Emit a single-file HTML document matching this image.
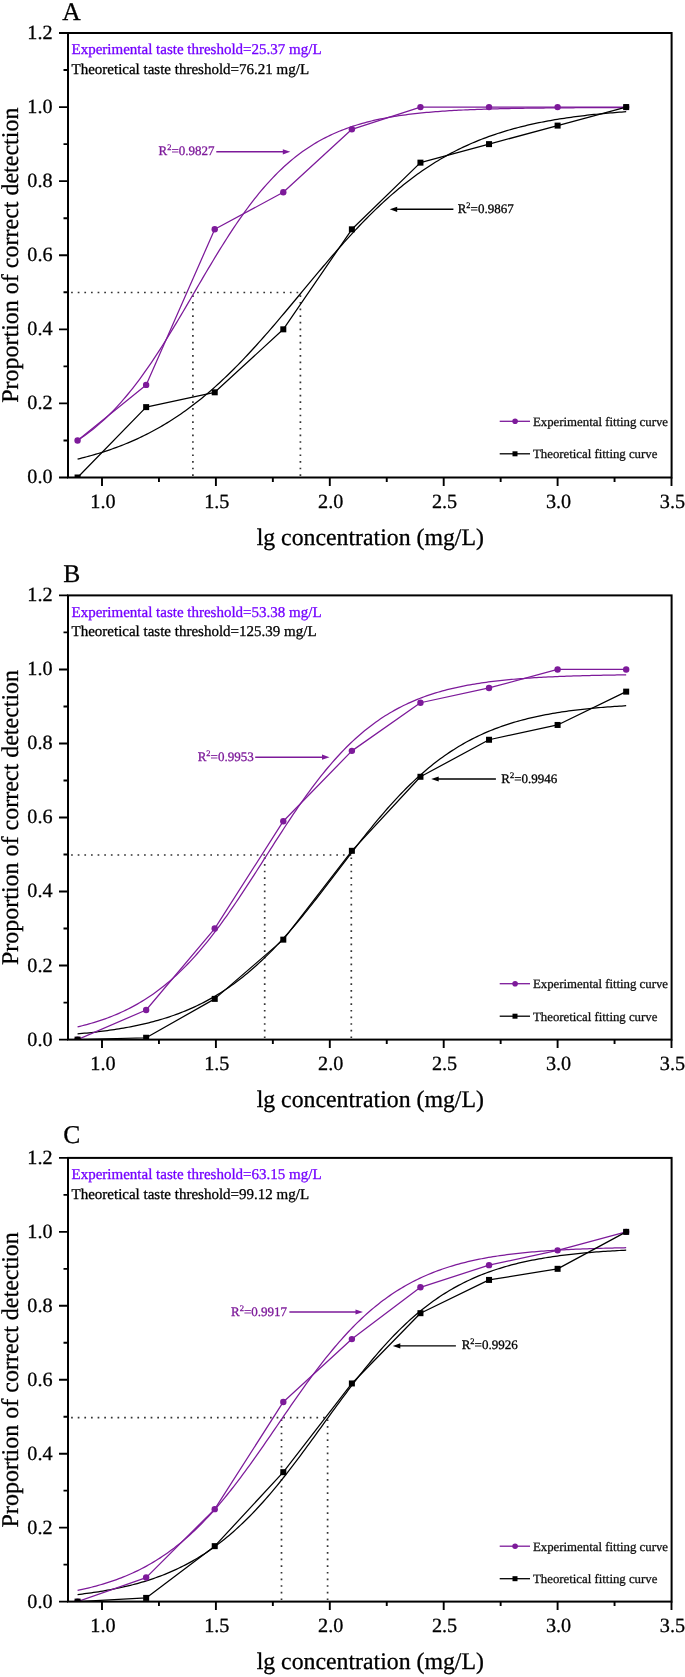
<!DOCTYPE html>
<html><head><meta charset="utf-8"><style>
html,body{margin:0;padding:0;background:#fff;}
svg{display:block;text-rendering:geometricPrecision;will-change:transform;}
text{font-family:"Liberation Serif", serif;}
</style></head><body>
<svg width="685" height="1677" viewBox="0 0 685 1677">
<rect width="685" height="1677" fill="#fff"/>
<text x="62.3" y="19.7" font-size="25.5" fill="#000" stroke="#000" stroke-width="0.3">A</text>
<g stroke="#333" stroke-width="1.7" stroke-dasharray="1.7 4.93" fill="none"><line x1="71.1" y1="292.5" x2="301.4" y2="292.5"/><line x1="192.9" y1="476.0" x2="192.9" y2="292.5"/><line x1="300.4" y1="476.0" x2="300.4" y2="292.5"/></g>
<clipPath id="cA"><rect x="68.0" y="33.0" width="603.6" height="444.5"/></clipPath>
<g clip-path="url(#cA)">
<polyline points="77.58,440.38 79.87,438.87 82.17,437.31 84.46,435.70 86.76,434.03 89.05,432.31 91.35,430.54 93.65,428.71 95.94,426.82 98.24,424.88 100.53,422.88 102.83,420.81 105.12,418.69 107.42,416.50 109.71,414.25 112.01,411.95 114.30,409.57 116.60,407.14 118.89,404.64 121.19,402.07 123.49,399.45 125.78,396.75 128.08,394.00 130.37,391.18 132.67,388.30 134.96,385.35 137.26,382.35 139.55,379.28 141.85,376.15 144.14,372.96 146.44,369.72 148.73,366.41 151.03,363.06 153.33,359.65 155.62,356.18 157.92,352.67 160.21,349.11 162.51,345.51 164.80,341.86 167.10,338.17 169.39,334.45 171.69,330.69 173.98,326.90 176.28,323.07 178.57,319.23 180.87,315.36 183.17,311.47 185.46,307.57 187.76,303.65 190.05,299.73 192.35,295.79 194.64,291.86 196.94,287.93 199.23,284.00 201.53,280.08 203.82,276.18 206.12,272.29 208.41,268.42 210.71,264.57 213.01,260.74 215.30,256.94 217.60,253.18 219.89,249.45 222.19,245.76 224.48,242.10 226.78,238.49 229.07,234.92 231.37,231.40 233.66,227.93 235.96,224.52 238.25,221.15 240.55,217.84 242.85,214.59 245.14,211.39 247.44,208.25 249.73,205.17 252.03,202.16 254.32,199.20 256.62,196.31 258.91,193.48 261.21,190.72 263.50,188.02 265.80,185.38 268.09,182.81 270.39,180.30 272.69,177.85 274.98,175.47 277.28,173.15 279.57,170.90 281.87,168.70 284.16,166.57 286.46,164.50 288.75,162.48 291.05,160.53 293.34,158.63 295.64,156.80 297.93,155.01 300.23,153.29 302.53,151.61 304.82,149.99 307.12,148.43 309.41,146.91 311.71,145.44 314.00,144.02 316.30,142.65 318.59,141.32 320.89,140.04 323.18,138.81 325.48,137.61 327.77,136.46 330.07,135.35 332.37,134.28 334.66,133.24 336.96,132.25 339.25,131.28 341.55,130.36 343.84,129.46 346.14,128.60 348.43,127.77 350.73,126.98 353.02,126.21 355.32,125.47 357.61,124.76 359.91,124.07 362.21,123.41 364.50,122.78 366.80,122.17 369.09,121.58 371.39,121.01 373.68,120.47 375.98,119.95 378.27,119.45 380.57,118.96 382.86,118.50 385.16,118.05 387.45,117.63 389.75,117.22 392.05,116.82 394.34,116.44 396.64,116.08 398.93,115.73 401.23,115.39 403.52,115.07 405.82,114.76 408.11,114.46 410.41,114.17 412.70,113.90 415.00,113.63 417.29,113.38 419.59,113.14 421.89,112.90 424.18,112.68 426.48,112.46 428.77,112.26 431.07,112.06 433.36,111.87 435.66,111.69 437.95,111.51 440.25,111.35 442.54,111.18 444.84,111.03 447.13,110.88 449.43,110.74 451.73,110.60 454.02,110.47 456.32,110.35 458.61,110.23 460.91,110.11 463.20,110.00 465.50,109.89 467.79,109.79 470.09,109.70 472.38,109.60 474.68,109.51 476.97,109.43 479.27,109.34 481.57,109.26 483.86,109.19 486.16,109.11 488.45,109.04 490.75,108.98 493.04,108.91 495.34,108.85 497.63,108.79 499.93,108.74 502.22,108.68 504.52,108.63 506.81,108.58 509.11,108.53 511.41,108.48 513.70,108.44 516.00,108.40 518.29,108.36 520.59,108.32 522.88,108.28 525.18,108.25 527.47,108.21 529.77,108.18 532.06,108.15 534.36,108.12 536.65,108.09 538.95,108.06 541.25,108.03 543.54,108.01 545.84,107.98 548.13,107.96 550.43,107.94 552.72,107.92 555.02,107.90 557.31,107.88 559.61,107.86 561.90,107.84 564.20,107.82 566.49,107.80 568.79,107.79 571.09,107.77 573.38,107.76 575.68,107.74 577.97,107.73 580.27,107.72 582.56,107.71 584.86,107.69 587.15,107.68 589.45,107.67 591.74,107.66 594.04,107.65 596.33,107.64 598.63,107.63 600.93,107.62 603.22,107.61 605.52,107.61 607.81,107.60 610.11,107.59 612.40,107.58 614.70,107.58 616.99,107.57 619.29,107.56 621.58,107.56 623.88,107.55 626.17,107.55" fill="none" stroke="#7d1a9a" stroke-width="1.25" stroke-linejoin="round"/>
<polyline points="77.58,459.08 79.87,458.52 82.17,457.95 84.46,457.37 86.76,456.77 89.05,456.15 91.35,455.52 93.65,454.87 95.94,454.20 98.24,453.51 100.53,452.81 102.83,452.09 105.12,451.35 107.42,450.59 109.71,449.81 112.01,449.02 114.30,448.20 116.60,447.36 118.89,446.50 121.19,445.62 123.49,444.72 125.78,443.79 128.08,442.85 130.37,441.88 132.67,440.88 134.96,439.86 137.26,438.82 139.55,437.76 141.85,436.67 144.14,435.55 146.44,434.41 148.73,433.24 151.03,432.04 153.33,430.82 155.62,429.57 157.92,428.29 160.21,426.99 162.51,425.66 164.80,424.29 167.10,422.90 169.39,421.48 171.69,420.03 173.98,418.56 176.28,417.05 178.57,415.51 180.87,413.94 183.17,412.34 185.46,410.70 187.76,409.04 190.05,407.35 192.35,405.62 194.64,403.86 196.94,402.08 199.23,400.26 201.53,398.41 203.82,396.52 206.12,394.61 208.41,392.66 210.71,390.68 213.01,388.68 215.30,386.64 217.60,384.57 219.89,382.47 222.19,380.33 224.48,378.17 226.78,375.98 229.07,373.76 231.37,371.51 233.66,369.23 235.96,366.93 238.25,364.59 240.55,362.23 242.85,359.84 245.14,357.43 247.44,354.99 249.73,352.53 252.03,350.04 254.32,347.53 256.62,345.00 258.91,342.45 261.21,339.88 263.50,337.28 265.80,334.67 268.09,332.04 270.39,329.40 272.69,326.74 274.98,324.06 277.28,321.37 279.57,318.67 281.87,315.95 284.16,313.23 286.46,310.50 288.75,307.76 291.05,305.01 293.34,302.26 295.64,299.50 297.93,296.74 300.23,293.98 302.53,291.21 304.82,288.45 307.12,285.69 309.41,282.93 311.71,280.18 314.00,277.43 316.30,274.69 318.59,271.95 320.89,269.23 323.18,266.51 325.48,263.81 327.77,261.12 330.07,258.44 332.37,255.78 334.66,253.13 336.96,250.50 339.25,247.88 341.55,245.29 343.84,242.71 346.14,240.15 348.43,237.62 350.73,235.11 353.02,232.62 355.32,230.15 357.61,227.71 359.91,225.29 362.21,222.90 364.50,220.53 366.80,218.20 369.09,215.89 371.39,213.60 373.68,211.35 375.98,209.12 378.27,206.93 380.57,204.76 382.86,202.63 385.16,200.52 387.45,198.45 389.75,196.40 392.05,194.39 394.34,192.41 396.64,190.46 398.93,188.54 401.23,186.65 403.52,184.79 405.82,182.97 408.11,181.17 410.41,179.41 412.70,177.68 415.00,175.98 417.29,174.32 419.59,172.68 421.89,171.07 424.18,169.50 426.48,167.96 428.77,166.44 431.07,164.96 433.36,163.50 435.66,162.08 437.95,160.68 440.25,159.32 442.54,157.98 444.84,156.67 447.13,155.39 449.43,154.14 451.73,152.91 454.02,151.71 456.32,150.54 458.61,149.39 460.91,148.27 463.20,147.18 465.50,146.11 467.79,145.06 470.09,144.04 472.38,143.04 474.68,142.07 476.97,141.12 479.27,140.19 481.57,139.28 483.86,138.40 486.16,137.54 488.45,136.70 490.75,135.88 493.04,135.08 495.34,134.29 497.63,133.53 499.93,132.79 502.22,132.07 504.52,131.36 506.81,130.67 509.11,130.00 511.41,129.35 513.70,128.71 516.00,128.09 518.29,127.49 520.59,126.90 522.88,126.33 525.18,125.77 527.47,125.23 529.77,124.70 532.06,124.18 534.36,123.68 536.65,123.20 538.95,122.72 541.25,122.26 543.54,121.81 545.84,121.37 548.13,120.94 550.43,120.53 552.72,120.13 555.02,119.73 557.31,119.35 559.61,118.98 561.90,118.62 564.20,118.27 566.49,117.92 568.79,117.59 571.09,117.27 573.38,116.95 575.68,116.65 577.97,116.35 580.27,116.06 582.56,115.78 584.86,115.51 587.15,115.24 589.45,114.98 591.74,114.73 594.04,114.49 596.33,114.25 598.63,114.02 600.93,113.80 603.22,113.58 605.52,113.37 607.81,113.16 610.11,112.96 612.40,112.77 614.70,112.58 616.99,112.39 619.29,112.22 621.58,112.04 623.88,111.87 626.17,111.71" fill="none" stroke="#000" stroke-width="1.25" stroke-linejoin="round"/>
<polyline points="77.58,440.46 146.15,384.90 214.73,229.32 283.30,192.28 351.88,129.31 420.45,107.08 489.03,107.08 557.60,107.08 626.17,107.08" fill="none" stroke="#7d1a9a" stroke-width="1.25" stroke-linejoin="round"/>
<circle cx="77.58" cy="440.46" r="3.2" fill="#7d1a9a"/>
<circle cx="146.15" cy="384.90" r="3.2" fill="#7d1a9a"/>
<circle cx="214.73" cy="229.32" r="3.2" fill="#7d1a9a"/>
<circle cx="283.30" cy="192.28" r="3.2" fill="#7d1a9a"/>
<circle cx="351.88" cy="129.31" r="3.2" fill="#7d1a9a"/>
<circle cx="420.45" cy="107.08" r="3.2" fill="#7d1a9a"/>
<circle cx="489.03" cy="107.08" r="3.2" fill="#7d1a9a"/>
<circle cx="557.60" cy="107.08" r="3.2" fill="#7d1a9a"/>
<circle cx="626.17" cy="107.08" r="3.2" fill="#7d1a9a"/>
<polyline points="77.58,477.50 146.15,407.12 214.73,392.30 283.30,329.33 351.88,229.32 420.45,162.65 489.03,144.12 557.60,125.60 626.17,107.08" fill="none" stroke="#000" stroke-width="1.25" stroke-linejoin="round"/>
<rect x="74.58" y="474.50" width="6" height="6" fill="#000"/>
<rect x="143.15" y="404.12" width="6" height="6" fill="#000"/>
<rect x="211.73" y="389.30" width="6" height="6" fill="#000"/>
<rect x="280.30" y="326.33" width="6" height="6" fill="#000"/>
<rect x="348.88" y="226.32" width="6" height="6" fill="#000"/>
<rect x="417.45" y="159.65" width="6" height="6" fill="#000"/>
<rect x="486.03" y="141.12" width="6" height="6" fill="#000"/>
<rect x="554.60" y="122.60" width="6" height="6" fill="#000"/>
<rect x="623.17" y="104.08" width="6" height="6" fill="#000"/>
</g>
<rect x="68.0" y="33.0" width="603.6" height="444.5" fill="none" stroke="#000" stroke-width="2"/>
<path d="M68.0 477.50H59.0M68.0 440.46H63.5M68.0 403.42H59.0M68.0 366.38H63.5M68.0 329.33H59.0M68.0 292.29H63.5M68.0 255.25H59.0M68.0 218.21H63.5M68.0 181.17H59.0M68.0 144.12H63.5M68.0 107.08H59.0M68.0 70.04H63.5M68.0 33.00H59.0M102.00 477.5V486.0M158.95 477.5V482.0M215.90 477.5V486.0M272.85 477.5V482.0M329.80 477.5V486.0M386.75 477.5V482.0M443.70 477.5V486.0M500.65 477.5V482.0M557.60 477.5V486.0M614.55 477.5V482.0M671.50 477.5V486.0" stroke="#000" stroke-width="1.9" fill="none"/>
<text x="52.6" y="483.4" font-size="20.2" fill="#000" stroke="#000" stroke-width="0.3" text-anchor="end">0.0</text>
<text x="52.6" y="409.3" font-size="20.2" fill="#000" stroke="#000" stroke-width="0.3" text-anchor="end">0.2</text>
<text x="52.6" y="335.2" font-size="20.2" fill="#000" stroke="#000" stroke-width="0.3" text-anchor="end">0.4</text>
<text x="52.6" y="261.1" font-size="20.2" fill="#000" stroke="#000" stroke-width="0.3" text-anchor="end">0.6</text>
<text x="52.6" y="187.1" font-size="20.2" fill="#000" stroke="#000" stroke-width="0.3" text-anchor="end">0.8</text>
<text x="52.6" y="113.0" font-size="20.2" fill="#000" stroke="#000" stroke-width="0.3" text-anchor="end">1.0</text>
<text x="52.6" y="38.9" font-size="20.2" fill="#000" stroke="#000" stroke-width="0.3" text-anchor="end">1.2</text>
<text x="102.9" y="507.5" font-size="20.2" fill="#000" stroke="#000" stroke-width="0.3" text-anchor="middle">1.0</text>
<text x="216.8" y="507.5" font-size="20.2" fill="#000" stroke="#000" stroke-width="0.3" text-anchor="middle">1.5</text>
<text x="330.7" y="507.5" font-size="20.2" fill="#000" stroke="#000" stroke-width="0.3" text-anchor="middle">2.0</text>
<text x="444.6" y="507.5" font-size="20.2" fill="#000" stroke="#000" stroke-width="0.3" text-anchor="middle">2.5</text>
<text x="558.5" y="507.5" font-size="20.2" fill="#000" stroke="#000" stroke-width="0.3" text-anchor="middle">3.0</text>
<text x="672.4" y="507.5" font-size="20.2" fill="#000" stroke="#000" stroke-width="0.3" text-anchor="middle">3.5</text>
<text x="370.3" y="544.5" font-size="23.8" fill="#000" stroke="#000" stroke-width="0.3" text-anchor="middle">lg concentration (mg/L)</text>
<text x="0.0" y="0.0" font-size="24" fill="#000" stroke="#000" stroke-width="0.3" text-anchor="middle" transform="translate(18.3 255.2) rotate(-90)">Proportion of correct detection</text>
<text x="71.5" y="54.3" font-size="15" fill="#7400ff" stroke="#7400ff" stroke-width="0.3">Experimental taste threshold=25.37 mg/L</text>
<text x="71.5" y="73.6" font-size="15" fill="#000" stroke="#000" stroke-width="0.3">Theoretical taste threshold=76.21 mg/L</text>
<text x="158.6" y="154.8" font-size="13" fill="#7d1a9a" stroke="#7d1a9a" stroke-width="0.3">R<tspan font-size="8.5" dy="-5.2">2</tspan><tspan dy="5.2">=0.9827</tspan></text>
<line x1="216.3" y1="151.8" x2="284.3" y2="151.8" stroke="#7d1a9a" stroke-width="1.4"/>
<path d="M290.3 151.8L282.8 149.2L282.8 154.4Z" fill="#7d1a9a"/>
<text x="457.7" y="213.3" font-size="13" fill="#000" stroke="#000" stroke-width="0.3">R<tspan font-size="8.5" dy="-5.2">2</tspan><tspan dy="5.2">=0.9867</tspan></text>
<line x1="453.4" y1="209.3" x2="395.7" y2="209.3" stroke="#000" stroke-width="1.4"/>
<path d="M389.7 209.3L397.2 206.7L397.2 211.9Z" fill="#000"/>
<line x1="499.7" y1="421.3" x2="530" y2="421.3" stroke="#7d1a9a" stroke-width="1.3"/>
<circle cx="515.1" cy="421.3" r="2.8" fill="#7d1a9a"/>
<line x1="499.7" y1="453.8" x2="530" y2="453.8" stroke="#000" stroke-width="1.3"/>
<rect x="512.5" y="451.3" width="5" height="5" fill="#000"/>
<text x="533.0" y="425.7" font-size="12.8" fill="#111" stroke="#111" stroke-width="0.3">Experimental fitting curve</text>
<text x="533.0" y="458.2" font-size="12.8" fill="#111" stroke="#111" stroke-width="0.3">Theoretical fitting curve</text>
<text x="63.3" y="582.4" font-size="25.5" fill="#000" stroke="#000" stroke-width="0.3">B</text>
<g stroke="#333" stroke-width="1.7" stroke-dasharray="1.7 4.93" fill="none"><line x1="71.1" y1="855.0" x2="352.3" y2="855.0"/><line x1="264.7" y1="1038.1" x2="264.7" y2="855.0"/><line x1="351.3" y1="1038.1" x2="351.3" y2="855.0"/></g>
<clipPath id="cB"><rect x="68.0" y="595.4" width="603.6" height="444.2"/></clipPath>
<g clip-path="url(#cB)">
<polyline points="77.58,1026.87 79.87,1026.32 82.17,1025.75 84.46,1025.16 86.76,1024.55 89.05,1023.92 91.35,1023.26 93.65,1022.58 95.94,1021.88 98.24,1021.15 100.53,1020.40 102.83,1019.62 105.12,1018.81 107.42,1017.97 109.71,1017.10 112.01,1016.21 114.30,1015.28 116.60,1014.32 118.89,1013.33 121.19,1012.30 123.49,1011.24 125.78,1010.15 128.08,1009.02 130.37,1007.85 132.67,1006.64 134.96,1005.39 137.26,1004.11 139.55,1002.78 141.85,1001.41 144.14,1000.00 146.44,998.54 148.73,997.04 151.03,995.50 153.33,993.91 155.62,992.27 157.92,990.58 160.21,988.84 162.51,987.06 164.80,985.22 167.10,983.34 169.39,981.40 171.69,979.41 173.98,977.37 176.28,975.27 178.57,973.12 180.87,970.92 183.17,968.66 185.46,966.35 187.76,963.99 190.05,961.57 192.35,959.10 194.64,956.57 196.94,953.99 199.23,951.35 201.53,948.66 203.82,945.92 206.12,943.12 208.41,940.28 210.71,937.38 213.01,934.43 215.30,931.44 217.60,928.39 219.89,925.30 222.19,922.17 224.48,918.99 226.78,915.77 229.07,912.51 231.37,909.21 233.66,905.87 235.96,902.50 238.25,899.10 240.55,895.66 242.85,892.20 245.14,888.71 247.44,885.20 249.73,881.67 252.03,878.12 254.32,874.56 256.62,870.98 258.91,867.39 261.21,863.79 263.50,860.19 265.80,856.59 268.09,852.99 270.39,849.39 272.69,845.80 274.98,842.21 277.28,838.64 279.57,835.08 281.87,831.54 284.16,828.02 286.46,824.53 288.75,821.05 291.05,817.61 293.34,814.19 295.64,810.81 297.93,807.45 300.23,804.14 302.53,800.86 304.82,797.62 307.12,794.42 309.41,791.27 311.71,788.16 314.00,785.10 316.30,782.08 318.59,779.11 320.89,776.19 323.18,773.32 325.48,770.51 327.77,767.74 330.07,765.03 332.37,762.37 334.66,759.76 336.96,757.21 339.25,754.71 341.55,752.27 343.84,749.88 346.14,747.55 348.43,745.27 350.73,743.04 353.02,740.87 355.32,738.75 357.61,736.69 359.91,734.67 362.21,732.71 364.50,730.81 366.80,728.95 369.09,727.14 371.39,725.38 373.68,723.68 375.98,722.02 378.27,720.40 380.57,718.84 382.86,717.32 385.16,715.84 387.45,714.41 389.75,713.02 392.05,711.68 394.34,710.38 396.64,709.11 398.93,707.89 401.23,706.70 403.52,705.55 405.82,704.44 408.11,703.37 410.41,702.33 412.70,701.32 415.00,700.35 417.29,699.41 419.59,698.50 421.89,697.62 424.18,696.77 426.48,695.95 428.77,695.15 431.07,694.39 433.36,693.65 435.66,692.93 437.95,692.24 440.25,691.58 442.54,690.94 444.84,690.32 447.13,689.72 449.43,689.14 451.73,688.58 454.02,688.05 456.32,687.53 458.61,687.03 460.91,686.55 463.20,686.09 465.50,685.64 467.79,685.21 470.09,684.79 472.38,684.39 474.68,684.01 476.97,683.64 479.27,683.28 481.57,682.93 483.86,682.60 486.16,682.28 488.45,681.97 490.75,681.67 493.04,681.39 495.34,681.11 497.63,680.85 499.93,680.59 502.22,680.35 504.52,680.11 506.81,679.88 509.11,679.66 511.41,679.45 513.70,679.25 516.00,679.05 518.29,678.86 520.59,678.68 522.88,678.51 525.18,678.34 527.47,678.18 529.77,678.02 532.06,677.87 534.36,677.73 536.65,677.59 538.95,677.46 541.25,677.33 543.54,677.21 545.84,677.09 548.13,676.97 550.43,676.86 552.72,676.76 555.02,676.66 557.31,676.56 559.61,676.46 561.90,676.37 564.20,676.29 566.49,676.20 568.79,676.12 571.09,676.04 573.38,675.97 575.68,675.90 577.97,675.83 580.27,675.76 582.56,675.70 584.86,675.64 587.15,675.58 589.45,675.52 591.74,675.47 594.04,675.41 596.33,675.36 598.63,675.32 600.93,675.27 603.22,675.22 605.52,675.18 607.81,675.14 610.11,675.10 612.40,675.06 614.70,675.02 616.99,674.99 619.29,674.95 621.58,674.92 623.88,674.89 626.17,674.86" fill="none" stroke="#7d1a9a" stroke-width="1.25" stroke-linejoin="round"/>
<polyline points="77.58,1033.88 79.87,1033.67 82.17,1033.46 84.46,1033.24 86.76,1033.01 89.05,1032.77 91.35,1032.53 93.65,1032.28 95.94,1032.01 98.24,1031.74 100.53,1031.46 102.83,1031.17 105.12,1030.87 107.42,1030.56 109.71,1030.24 112.01,1029.91 114.30,1029.56 116.60,1029.21 118.89,1028.84 121.19,1028.46 123.49,1028.07 125.78,1027.66 128.08,1027.24 130.37,1026.81 132.67,1026.36 134.96,1025.89 137.26,1025.41 139.55,1024.92 141.85,1024.41 144.14,1023.88 146.44,1023.33 148.73,1022.77 151.03,1022.18 153.33,1021.58 155.62,1020.96 157.92,1020.32 160.21,1019.66 162.51,1018.98 164.80,1018.27 167.10,1017.54 169.39,1016.79 171.69,1016.02 173.98,1015.22 176.28,1014.40 178.57,1013.55 180.87,1012.68 183.17,1011.78 185.46,1010.85 187.76,1009.89 190.05,1008.91 192.35,1007.89 194.64,1006.85 196.94,1005.78 199.23,1004.67 201.53,1003.53 203.82,1002.36 206.12,1001.16 208.41,999.92 210.71,998.65 213.01,997.35 215.30,996.01 217.60,994.63 219.89,993.22 222.19,991.76 224.48,990.28 226.78,988.75 229.07,987.18 231.37,985.58 233.66,983.94 235.96,982.25 238.25,980.53 240.55,978.76 242.85,976.96 245.14,975.11 247.44,973.22 249.73,971.30 252.03,969.33 254.32,967.31 256.62,965.26 258.91,963.16 261.21,961.03 263.50,958.85 265.80,956.63 268.09,954.37 270.39,952.07 272.69,949.73 274.98,947.35 277.28,944.94 279.57,942.48 281.87,939.99 284.16,937.45 286.46,934.89 288.75,932.29 291.05,929.65 293.34,926.98 295.64,924.28 297.93,921.55 300.23,918.79 302.53,916.00 304.82,913.18 307.12,910.34 309.41,907.47 311.71,904.59 314.00,901.68 316.30,898.75 318.59,895.81 320.89,892.85 323.18,889.87 325.48,886.88 327.77,883.89 330.07,880.88 332.37,877.87 334.66,874.86 336.96,871.84 339.25,868.82 341.55,865.80 343.84,862.79 346.14,859.78 348.43,856.77 350.73,853.78 353.02,850.80 355.32,847.83 357.61,844.87 359.91,841.93 362.21,839.01 364.50,836.11 366.80,833.23 369.09,830.37 371.39,827.54 373.68,824.73 375.98,821.95 378.27,819.20 380.57,816.48 382.86,813.79 385.16,811.13 387.45,808.50 389.75,805.91 392.05,803.36 394.34,800.84 396.64,798.36 398.93,795.91 401.23,793.51 403.52,791.14 405.82,788.81 408.11,786.53 410.41,784.28 412.70,782.08 415.00,779.91 417.29,777.79 419.59,775.71 421.89,773.67 424.18,771.67 426.48,769.71 428.77,767.80 431.07,765.92 433.36,764.09 435.66,762.30 437.95,760.55 440.25,758.84 442.54,757.17 444.84,755.53 447.13,753.94 449.43,752.39 451.73,750.88 454.02,749.40 456.32,747.96 458.61,746.56 460.91,745.20 463.20,743.87 465.50,742.57 467.79,741.31 470.09,740.09 472.38,738.90 474.68,737.74 476.97,736.61 479.27,735.51 481.57,734.45 483.86,733.42 486.16,732.41 488.45,731.44 490.75,730.49 493.04,729.57 495.34,728.68 497.63,727.81 499.93,726.97 502.22,726.16 504.52,725.37 506.81,724.60 509.11,723.86 511.41,723.14 513.70,722.44 516.00,721.77 518.29,721.11 520.59,720.48 522.88,719.86 525.18,719.27 527.47,718.69 529.77,718.13 532.06,717.59 534.36,717.07 536.65,716.56 538.95,716.07 541.25,715.60 543.54,715.14 545.84,714.70 548.13,714.27 550.43,713.85 552.72,713.45 555.02,713.06 557.31,712.68 559.61,712.32 561.90,711.97 564.20,711.63 566.49,711.30 568.79,710.98 571.09,710.67 573.38,710.38 575.68,710.09 577.97,709.81 580.27,709.54 582.56,709.29 584.86,709.04 587.15,708.79 589.45,708.56 591.74,708.33 594.04,708.12 596.33,707.90 598.63,707.70 600.93,707.50 603.22,707.31 605.52,707.13 607.81,706.95 610.11,706.78 612.40,706.62 614.70,706.46 616.99,706.30 619.29,706.15 621.58,706.01 623.88,705.87 626.17,705.74" fill="none" stroke="#000" stroke-width="1.25" stroke-linejoin="round"/>
<polyline points="77.58,1039.60 146.15,1009.99 214.73,928.55 283.30,821.20 351.88,750.87 420.45,702.75 489.03,687.94 557.60,669.43 626.17,669.43" fill="none" stroke="#7d1a9a" stroke-width="1.25" stroke-linejoin="round"/>
<circle cx="77.58" cy="1039.60" r="3.2" fill="#7d1a9a"/>
<circle cx="146.15" cy="1009.99" r="3.2" fill="#7d1a9a"/>
<circle cx="214.73" cy="928.55" r="3.2" fill="#7d1a9a"/>
<circle cx="283.30" cy="821.20" r="3.2" fill="#7d1a9a"/>
<circle cx="351.88" cy="750.87" r="3.2" fill="#7d1a9a"/>
<circle cx="420.45" cy="702.75" r="3.2" fill="#7d1a9a"/>
<circle cx="489.03" cy="687.94" r="3.2" fill="#7d1a9a"/>
<circle cx="557.60" cy="669.43" r="3.2" fill="#7d1a9a"/>
<circle cx="626.17" cy="669.43" r="3.2" fill="#7d1a9a"/>
<polyline points="77.58,1039.60 146.15,1037.75 214.73,998.88 283.30,939.65 351.88,850.81 420.45,776.78 489.03,739.76 557.60,724.96 626.17,691.64" fill="none" stroke="#000" stroke-width="1.25" stroke-linejoin="round"/>
<rect x="74.58" y="1036.60" width="6" height="6" fill="#000"/>
<rect x="143.15" y="1034.75" width="6" height="6" fill="#000"/>
<rect x="211.73" y="995.88" width="6" height="6" fill="#000"/>
<rect x="280.30" y="936.65" width="6" height="6" fill="#000"/>
<rect x="348.88" y="847.81" width="6" height="6" fill="#000"/>
<rect x="417.45" y="773.78" width="6" height="6" fill="#000"/>
<rect x="486.03" y="736.76" width="6" height="6" fill="#000"/>
<rect x="554.60" y="721.96" width="6" height="6" fill="#000"/>
<rect x="623.17" y="688.64" width="6" height="6" fill="#000"/>
</g>
<rect x="68.0" y="595.4" width="603.6" height="444.2" fill="none" stroke="#000" stroke-width="2"/>
<path d="M68.0 1039.60H59.0M68.0 1002.58H63.5M68.0 965.57H59.0M68.0 928.55H63.5M68.0 891.53H59.0M68.0 854.52H63.5M68.0 817.50H59.0M68.0 780.48H63.5M68.0 743.47H59.0M68.0 706.45H63.5M68.0 669.43H59.0M68.0 632.42H63.5M68.0 595.40H59.0M102.00 1039.6V1048.1M158.95 1039.6V1044.1M215.90 1039.6V1048.1M272.85 1039.6V1044.1M329.80 1039.6V1048.1M386.75 1039.6V1044.1M443.70 1039.6V1048.1M500.65 1039.6V1044.1M557.60 1039.6V1048.1M614.55 1039.6V1044.1M671.50 1039.6V1048.1" stroke="#000" stroke-width="1.9" fill="none"/>
<text x="52.6" y="1045.5" font-size="20.2" fill="#000" stroke="#000" stroke-width="0.3" text-anchor="end">0.0</text>
<text x="52.6" y="971.5" font-size="20.2" fill="#000" stroke="#000" stroke-width="0.3" text-anchor="end">0.2</text>
<text x="52.6" y="897.4" font-size="20.2" fill="#000" stroke="#000" stroke-width="0.3" text-anchor="end">0.4</text>
<text x="52.6" y="823.4" font-size="20.2" fill="#000" stroke="#000" stroke-width="0.3" text-anchor="end">0.6</text>
<text x="52.6" y="749.4" font-size="20.2" fill="#000" stroke="#000" stroke-width="0.3" text-anchor="end">0.8</text>
<text x="52.6" y="675.3" font-size="20.2" fill="#000" stroke="#000" stroke-width="0.3" text-anchor="end">1.0</text>
<text x="52.6" y="601.3" font-size="20.2" fill="#000" stroke="#000" stroke-width="0.3" text-anchor="end">1.2</text>
<text x="102.9" y="1069.6" font-size="20.2" fill="#000" stroke="#000" stroke-width="0.3" text-anchor="middle">1.0</text>
<text x="216.8" y="1069.6" font-size="20.2" fill="#000" stroke="#000" stroke-width="0.3" text-anchor="middle">1.5</text>
<text x="330.7" y="1069.6" font-size="20.2" fill="#000" stroke="#000" stroke-width="0.3" text-anchor="middle">2.0</text>
<text x="444.6" y="1069.6" font-size="20.2" fill="#000" stroke="#000" stroke-width="0.3" text-anchor="middle">2.5</text>
<text x="558.5" y="1069.6" font-size="20.2" fill="#000" stroke="#000" stroke-width="0.3" text-anchor="middle">3.0</text>
<text x="672.4" y="1069.6" font-size="20.2" fill="#000" stroke="#000" stroke-width="0.3" text-anchor="middle">3.5</text>
<text x="370.3" y="1106.6" font-size="23.8" fill="#000" stroke="#000" stroke-width="0.3" text-anchor="middle">lg concentration (mg/L)</text>
<text x="0.0" y="0.0" font-size="24" fill="#000" stroke="#000" stroke-width="0.3" text-anchor="middle" transform="translate(18.3 817.5) rotate(-90)">Proportion of correct detection</text>
<text x="71.5" y="616.7" font-size="15" fill="#7400ff" stroke="#7400ff" stroke-width="0.3">Experimental taste threshold=53.38 mg/L</text>
<text x="71.5" y="636.0" font-size="15" fill="#000" stroke="#000" stroke-width="0.3">Theoretical taste threshold=125.39 mg/L</text>
<text x="197.7" y="761.0" font-size="13" fill="#7d1a9a" stroke="#7d1a9a" stroke-width="0.3">R<tspan font-size="8.5" dy="-5.2">2</tspan><tspan dy="5.2">=0.9953</tspan></text>
<line x1="255.2" y1="757.2" x2="323.5" y2="757.2" stroke="#7d1a9a" stroke-width="1.4"/>
<path d="M329.5 757.2L322.0 754.6L322.0 759.8Z" fill="#7d1a9a"/>
<text x="501.3" y="783.0" font-size="13" fill="#000" stroke="#000" stroke-width="0.3">R<tspan font-size="8.5" dy="-5.2">2</tspan><tspan dy="5.2">=0.9946</tspan></text>
<line x1="495.9" y1="779.0" x2="437.2" y2="779.0" stroke="#000" stroke-width="1.4"/>
<path d="M431.2 779.0L438.7 776.4L438.7 781.6Z" fill="#000"/>
<line x1="499.7" y1="983.7" x2="530" y2="983.7" stroke="#7d1a9a" stroke-width="1.3"/>
<circle cx="515.1" cy="983.7" r="2.8" fill="#7d1a9a"/>
<line x1="499.7" y1="1016.2" x2="530" y2="1016.2" stroke="#000" stroke-width="1.3"/>
<rect x="512.5" y="1013.7" width="5" height="5" fill="#000"/>
<text x="533.0" y="988.1" font-size="12.8" fill="#111" stroke="#111" stroke-width="0.3">Experimental fitting curve</text>
<text x="533.0" y="1020.6" font-size="12.8" fill="#111" stroke="#111" stroke-width="0.3">Theoretical fitting curve</text>
<text x="63.3" y="1143.4" font-size="25.5" fill="#000" stroke="#000" stroke-width="0.3">C</text>
<g stroke="#333" stroke-width="1.7" stroke-dasharray="1.7 4.93" fill="none"><line x1="71.1" y1="1417.6" x2="328.6" y2="1417.6"/><line x1="281.5" y1="1600.1" x2="281.5" y2="1417.6"/><line x1="327.6" y1="1600.1" x2="327.6" y2="1417.6"/></g>
<clipPath id="cC"><rect x="68.0" y="1157.9" width="603.6" height="443.7"/></clipPath>
<g clip-path="url(#cC)">
<polyline points="77.58,1590.38 79.87,1589.91 82.17,1589.41 84.46,1588.90 86.76,1588.37 89.05,1587.82 91.35,1587.25 93.65,1586.66 95.94,1586.05 98.24,1585.42 100.53,1584.77 102.83,1584.09 105.12,1583.40 107.42,1582.68 109.71,1581.93 112.01,1581.16 114.30,1580.36 116.60,1579.54 118.89,1578.69 121.19,1577.81 123.49,1576.91 125.78,1575.97 128.08,1575.01 130.37,1574.01 132.67,1572.98 134.96,1571.92 137.26,1570.82 139.55,1569.70 141.85,1568.53 144.14,1567.33 146.44,1566.10 148.73,1564.82 151.03,1563.51 153.33,1562.16 155.62,1560.77 157.92,1559.34 160.21,1557.87 162.51,1556.35 164.80,1554.80 167.10,1553.20 169.39,1551.56 171.69,1549.87 173.98,1548.14 176.28,1546.36 178.57,1544.54 180.87,1542.67 183.17,1540.75 185.46,1538.79 187.76,1536.77 190.05,1534.71 192.35,1532.61 194.64,1530.45 196.94,1528.24 199.23,1525.99 201.53,1523.69 203.82,1521.34 206.12,1518.94 208.41,1516.49 210.71,1514.00 213.01,1511.46 215.30,1508.87 217.60,1506.24 219.89,1503.56 222.19,1500.83 224.48,1498.06 226.78,1495.25 229.07,1492.40 231.37,1489.51 233.66,1486.57 235.96,1483.60 238.25,1480.59 240.55,1477.55 242.85,1474.47 245.14,1471.36 247.44,1468.22 249.73,1465.05 252.03,1461.85 254.32,1458.63 256.62,1455.38 258.91,1452.12 261.21,1448.83 263.50,1445.53 265.80,1442.22 268.09,1438.89 270.39,1435.55 272.69,1432.21 274.98,1428.86 277.28,1425.51 279.57,1422.16 281.87,1418.80 284.16,1415.46 286.46,1412.12 288.75,1408.79 291.05,1405.47 293.34,1402.16 295.64,1398.87 297.93,1395.60 300.23,1392.35 302.53,1389.12 304.82,1385.91 307.12,1382.73 309.41,1379.58 311.71,1376.46 314.00,1373.37 316.30,1370.32 318.59,1367.30 320.89,1364.31 323.18,1361.37 325.48,1358.46 327.77,1355.59 330.07,1352.77 332.37,1349.98 334.66,1347.25 336.96,1344.55 339.25,1341.90 341.55,1339.30 343.84,1336.74 346.14,1334.23 348.43,1331.77 350.73,1329.35 353.02,1326.99 355.32,1324.67 357.61,1322.40 359.91,1320.18 362.21,1318.01 364.50,1315.88 366.80,1313.81 369.09,1311.78 371.39,1309.80 373.68,1307.87 375.98,1305.98 378.27,1304.14 380.57,1302.35 382.86,1300.60 385.16,1298.90 387.45,1297.24 389.75,1295.63 392.05,1294.06 394.34,1292.53 396.64,1291.05 398.93,1289.60 401.23,1288.20 403.52,1286.84 405.82,1285.51 408.11,1284.23 410.41,1282.98 412.70,1281.77 415.00,1280.59 417.29,1279.45 419.59,1278.34 421.89,1277.27 424.18,1276.23 426.48,1275.22 428.77,1274.25 431.07,1273.30 433.36,1272.39 435.66,1271.50 437.95,1270.64 440.25,1269.81 442.54,1269.00 444.84,1268.23 447.13,1267.47 449.43,1266.74 451.73,1266.04 454.02,1265.36 456.32,1264.70 458.61,1264.06 460.91,1263.44 463.20,1262.85 465.50,1262.27 467.79,1261.72 470.09,1261.18 472.38,1260.66 474.68,1260.16 476.97,1259.68 479.27,1259.21 481.57,1258.76 483.86,1258.32 486.16,1257.90 488.45,1257.49 490.75,1257.10 493.04,1256.72 495.34,1256.36 497.63,1256.00 499.93,1255.66 502.22,1255.33 504.52,1255.02 506.81,1254.71 509.11,1254.42 511.41,1254.13 513.70,1253.86 516.00,1253.59 518.29,1253.34 520.59,1253.09 522.88,1252.85 525.18,1252.62 527.47,1252.40 529.77,1252.19 532.06,1251.98 534.36,1251.78 536.65,1251.59 538.95,1251.41 541.25,1251.23 543.54,1251.06 545.84,1250.90 548.13,1250.74 550.43,1250.58 552.72,1250.43 555.02,1250.29 557.31,1250.15 559.61,1250.02 561.90,1249.89 564.20,1249.77 566.49,1249.65 568.79,1249.54 571.09,1249.43 573.38,1249.32 575.68,1249.22 577.97,1249.12 580.27,1249.03 582.56,1248.94 584.86,1248.85 587.15,1248.76 589.45,1248.68 591.74,1248.60 594.04,1248.53 596.33,1248.45 598.63,1248.38 600.93,1248.31 603.22,1248.25 605.52,1248.18 607.81,1248.12 610.11,1248.07 612.40,1248.01 614.70,1247.95 616.99,1247.90 619.29,1247.85 621.58,1247.80 623.88,1247.76 626.17,1247.71" fill="none" stroke="#7d1a9a" stroke-width="1.25" stroke-linejoin="round"/>
<polyline points="77.58,1594.58 79.87,1594.31 82.17,1594.03 84.46,1593.74 86.76,1593.44 89.05,1593.13 91.35,1592.81 93.65,1592.47 95.94,1592.13 98.24,1591.77 100.53,1591.41 102.83,1591.03 105.12,1590.63 107.42,1590.23 109.71,1589.81 112.01,1589.37 114.30,1588.92 116.60,1588.46 118.89,1587.98 121.19,1587.49 123.49,1586.97 125.78,1586.44 128.08,1585.90 130.37,1585.33 132.67,1584.75 134.96,1584.15 137.26,1583.53 139.55,1582.88 141.85,1582.22 144.14,1581.54 146.44,1580.83 148.73,1580.10 151.03,1579.35 153.33,1578.57 155.62,1577.77 157.92,1576.95 160.21,1576.10 162.51,1575.22 164.80,1574.32 167.10,1573.38 169.39,1572.42 171.69,1571.44 173.98,1570.42 176.28,1569.37 178.57,1568.29 180.87,1567.18 183.17,1566.03 185.46,1564.85 187.76,1563.64 190.05,1562.40 192.35,1561.12 194.64,1559.80 196.94,1558.45 199.23,1557.06 201.53,1555.63 203.82,1554.17 206.12,1552.67 208.41,1551.12 210.71,1549.54 213.01,1547.92 215.30,1546.26 217.60,1544.55 219.89,1542.80 222.19,1541.02 224.48,1539.19 226.78,1537.31 229.07,1535.40 231.37,1533.44 233.66,1531.43 235.96,1529.39 238.25,1527.30 240.55,1525.16 242.85,1522.99 245.14,1520.77 247.44,1518.50 249.73,1516.19 252.03,1513.84 254.32,1511.45 256.62,1509.02 258.91,1506.54 261.21,1504.02 263.50,1501.46 265.80,1498.87 268.09,1496.23 270.39,1493.55 272.69,1490.84 274.98,1488.09 277.28,1485.30 279.57,1482.49 281.87,1479.63 284.16,1476.75 286.46,1473.84 288.75,1470.89 291.05,1467.92 293.34,1464.93 295.64,1461.90 297.93,1458.86 300.23,1455.80 302.53,1452.71 304.82,1449.61 307.12,1446.49 309.41,1443.36 311.71,1440.22 314.00,1437.06 316.30,1433.90 318.59,1430.74 320.89,1427.57 323.18,1424.39 325.48,1421.22 327.77,1418.05 330.07,1414.89 332.37,1411.73 334.66,1408.57 336.96,1405.43 339.25,1402.30 341.55,1399.19 343.84,1396.09 346.14,1393.01 348.43,1389.94 350.73,1386.90 353.02,1383.88 355.32,1380.89 357.61,1377.92 359.91,1374.98 362.21,1372.07 364.50,1369.19 366.80,1366.35 369.09,1363.53 371.39,1360.75 373.68,1358.01 375.98,1355.30 378.27,1352.63 380.57,1350.00 382.86,1347.40 385.16,1344.85 387.45,1342.34 389.75,1339.87 392.05,1337.44 394.34,1335.05 396.64,1332.70 398.93,1330.40 401.23,1328.14 403.52,1325.93 405.82,1323.76 408.11,1321.63 410.41,1319.54 412.70,1317.50 415.00,1315.51 417.29,1313.55 419.59,1311.64 421.89,1309.77 424.18,1307.95 426.48,1306.17 428.77,1304.43 431.07,1302.73 433.36,1301.07 435.66,1299.45 437.95,1297.87 440.25,1296.34 442.54,1294.84 444.84,1293.38 447.13,1291.96 449.43,1290.57 451.73,1289.23 454.02,1287.91 456.32,1286.64 458.61,1285.40 460.91,1284.19 463.20,1283.02 465.50,1281.88 467.79,1280.77 470.09,1279.70 472.38,1278.65 474.68,1277.64 476.97,1276.65 479.27,1275.69 481.57,1274.77 483.86,1273.87 486.16,1272.99 488.45,1272.14 490.75,1271.32 493.04,1270.53 495.34,1269.75 497.63,1269.00 499.93,1268.28 502.22,1267.57 504.52,1266.89 506.81,1266.23 509.11,1265.59 511.41,1264.97 513.70,1264.37 516.00,1263.79 518.29,1263.23 520.59,1262.69 522.88,1262.16 525.18,1261.65 527.47,1261.16 529.77,1260.68 532.06,1260.22 534.36,1259.77 536.65,1259.34 538.95,1258.92 541.25,1258.52 543.54,1258.12 545.84,1257.75 548.13,1257.38 550.43,1257.03 552.72,1256.68 555.02,1256.35 557.31,1256.03 559.61,1255.73 561.90,1255.43 564.20,1255.14 566.49,1254.86 568.79,1254.59 571.09,1254.33 573.38,1254.08 575.68,1253.83 577.97,1253.60 580.27,1253.37 582.56,1253.15 584.86,1252.94 587.15,1252.74 589.45,1252.54 591.74,1252.35 594.04,1252.16 596.33,1251.98 598.63,1251.81 600.93,1251.64 603.22,1251.48 605.52,1251.33 607.81,1251.18 610.11,1251.03 612.40,1250.89 614.70,1250.76 616.99,1250.63 619.29,1250.50 621.58,1250.38 623.88,1250.26 626.17,1250.15" fill="none" stroke="#000" stroke-width="1.25" stroke-linejoin="round"/>
<polyline points="77.58,1601.60 146.15,1577.57 214.73,1509.16 283.30,1401.93 351.88,1339.08 420.45,1287.31 489.03,1265.13 557.60,1250.34 626.17,1231.85" fill="none" stroke="#7d1a9a" stroke-width="1.25" stroke-linejoin="round"/>
<circle cx="77.58" cy="1601.60" r="3.2" fill="#7d1a9a"/>
<circle cx="146.15" cy="1577.57" r="3.2" fill="#7d1a9a"/>
<circle cx="214.73" cy="1509.16" r="3.2" fill="#7d1a9a"/>
<circle cx="283.30" cy="1401.93" r="3.2" fill="#7d1a9a"/>
<circle cx="351.88" cy="1339.08" r="3.2" fill="#7d1a9a"/>
<circle cx="420.45" cy="1287.31" r="3.2" fill="#7d1a9a"/>
<circle cx="489.03" cy="1265.13" r="3.2" fill="#7d1a9a"/>
<circle cx="557.60" cy="1250.34" r="3.2" fill="#7d1a9a"/>
<circle cx="626.17" cy="1231.85" r="3.2" fill="#7d1a9a"/>
<polyline points="77.58,1601.60 146.15,1597.90 214.73,1546.14 283.30,1472.19 351.88,1383.45 420.45,1313.19 489.03,1279.92 557.60,1268.83 626.17,1231.85" fill="none" stroke="#000" stroke-width="1.25" stroke-linejoin="round"/>
<rect x="74.58" y="1598.60" width="6" height="6" fill="#000"/>
<rect x="143.15" y="1594.90" width="6" height="6" fill="#000"/>
<rect x="211.73" y="1543.14" width="6" height="6" fill="#000"/>
<rect x="280.30" y="1469.19" width="6" height="6" fill="#000"/>
<rect x="348.88" y="1380.45" width="6" height="6" fill="#000"/>
<rect x="417.45" y="1310.19" width="6" height="6" fill="#000"/>
<rect x="486.03" y="1276.92" width="6" height="6" fill="#000"/>
<rect x="554.60" y="1265.83" width="6" height="6" fill="#000"/>
<rect x="623.17" y="1228.85" width="6" height="6" fill="#000"/>
</g>
<rect x="68.0" y="1157.9" width="603.6" height="443.7" fill="none" stroke="#000" stroke-width="2"/>
<path d="M68.0 1601.60H59.0M68.0 1564.62H63.5M68.0 1527.65H59.0M68.0 1490.67H63.5M68.0 1453.70H59.0M68.0 1416.72H63.5M68.0 1379.75H59.0M68.0 1342.78H63.5M68.0 1305.80H59.0M68.0 1268.83H63.5M68.0 1231.85H59.0M68.0 1194.88H63.5M68.0 1157.90H59.0M102.00 1601.6V1610.1M158.95 1601.6V1606.1M215.90 1601.6V1610.1M272.85 1601.6V1606.1M329.80 1601.6V1610.1M386.75 1601.6V1606.1M443.70 1601.6V1610.1M500.65 1601.6V1606.1M557.60 1601.6V1610.1M614.55 1601.6V1606.1M671.50 1601.6V1610.1" stroke="#000" stroke-width="1.9" fill="none"/>
<text x="52.6" y="1607.5" font-size="20.2" fill="#000" stroke="#000" stroke-width="0.3" text-anchor="end">0.0</text>
<text x="52.6" y="1533.5" font-size="20.2" fill="#000" stroke="#000" stroke-width="0.3" text-anchor="end">0.2</text>
<text x="52.6" y="1459.6" font-size="20.2" fill="#000" stroke="#000" stroke-width="0.3" text-anchor="end">0.4</text>
<text x="52.6" y="1385.7" font-size="20.2" fill="#000" stroke="#000" stroke-width="0.3" text-anchor="end">0.6</text>
<text x="52.6" y="1311.7" font-size="20.2" fill="#000" stroke="#000" stroke-width="0.3" text-anchor="end">0.8</text>
<text x="52.6" y="1237.8" font-size="20.2" fill="#000" stroke="#000" stroke-width="0.3" text-anchor="end">1.0</text>
<text x="52.6" y="1163.8" font-size="20.2" fill="#000" stroke="#000" stroke-width="0.3" text-anchor="end">1.2</text>
<text x="102.9" y="1631.6" font-size="20.2" fill="#000" stroke="#000" stroke-width="0.3" text-anchor="middle">1.0</text>
<text x="216.8" y="1631.6" font-size="20.2" fill="#000" stroke="#000" stroke-width="0.3" text-anchor="middle">1.5</text>
<text x="330.7" y="1631.6" font-size="20.2" fill="#000" stroke="#000" stroke-width="0.3" text-anchor="middle">2.0</text>
<text x="444.6" y="1631.6" font-size="20.2" fill="#000" stroke="#000" stroke-width="0.3" text-anchor="middle">2.5</text>
<text x="558.5" y="1631.6" font-size="20.2" fill="#000" stroke="#000" stroke-width="0.3" text-anchor="middle">3.0</text>
<text x="672.4" y="1631.6" font-size="20.2" fill="#000" stroke="#000" stroke-width="0.3" text-anchor="middle">3.5</text>
<text x="370.3" y="1668.6" font-size="23.8" fill="#000" stroke="#000" stroke-width="0.3" text-anchor="middle">lg concentration (mg/L)</text>
<text x="0.0" y="0.0" font-size="24" fill="#000" stroke="#000" stroke-width="0.3" text-anchor="middle" transform="translate(18.3 1379.8) rotate(-90)">Proportion of correct detection</text>
<text x="71.5" y="1179.2" font-size="15" fill="#7400ff" stroke="#7400ff" stroke-width="0.3">Experimental taste threshold=63.15 mg/L</text>
<text x="71.5" y="1198.5" font-size="15" fill="#000" stroke="#000" stroke-width="0.3">Theoretical taste threshold=99.12 mg/L</text>
<text x="231.0" y="1316.0" font-size="13" fill="#7d1a9a" stroke="#7d1a9a" stroke-width="0.3">R<tspan font-size="8.5" dy="-5.2">2</tspan><tspan dy="5.2">=0.9917</tspan></text>
<line x1="289.4" y1="1312.0" x2="357.0" y2="1312.0" stroke="#7d1a9a" stroke-width="1.4"/>
<path d="M363.0 1312.0L355.5 1309.4L355.5 1314.6Z" fill="#7d1a9a"/>
<text x="461.7" y="1349.2" font-size="13" fill="#000" stroke="#000" stroke-width="0.3">R<tspan font-size="8.5" dy="-5.2">2</tspan><tspan dy="5.2">=0.9926</tspan></text>
<line x1="455.9" y1="1345.9" x2="398.8" y2="1345.9" stroke="#000" stroke-width="1.4"/>
<path d="M392.8 1345.9L400.3 1343.3L400.3 1348.5Z" fill="#000"/>
<line x1="499.7" y1="1546.2" x2="530" y2="1546.2" stroke="#7d1a9a" stroke-width="1.3"/>
<circle cx="515.1" cy="1546.2" r="2.8" fill="#7d1a9a"/>
<line x1="499.7" y1="1578.7" x2="530" y2="1578.7" stroke="#000" stroke-width="1.3"/>
<rect x="512.5" y="1576.2" width="5" height="5" fill="#000"/>
<text x="533.0" y="1550.6" font-size="12.8" fill="#111" stroke="#111" stroke-width="0.3">Experimental fitting curve</text>
<text x="533.0" y="1583.1" font-size="12.8" fill="#111" stroke="#111" stroke-width="0.3">Theoretical fitting curve</text>
</svg>
</body></html>
